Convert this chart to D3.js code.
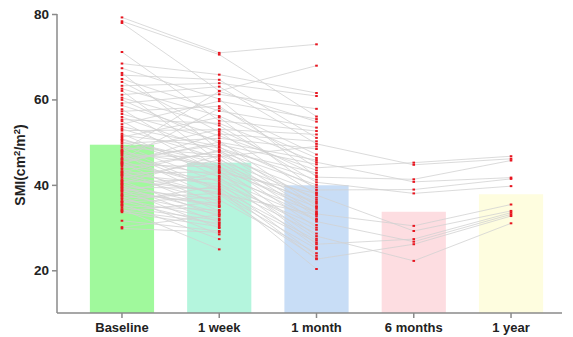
<!DOCTYPE html>
<html><head><meta charset="utf-8">
<script src="https://cdn.jsdelivr.net/npm/d3@7"></script>
<style>body{margin:0;background:#fff}svg{display:block}text{font-family:"Liberation Sans",Arial,sans-serif}</style>
</head><body><svg id="c" width="573" height="337"></svg>
<script>
const categories = ["Baseline","1 week","1 month","6 months","1 year"];
const barMeans = [49.4, 45.2, 39.9, 33.7, 37.8];
const barColors = ["#a0f99c","#b4f5dd","#c8ddf6","#fddde1","#fefddf"];
const yTicks = [20, 40, 60, 80];

// per-patient values (null = not measured)
const baseline = [79.2,78.3,77.9,71.1,68.4,67.3,66.2,65.7,64.8,64.1,63.2,62.5,62.0,61.1,60.4,59.9,59.1,58.6,57.7,57.2,56.6,55.9,55.3,54.9,54.2,53.6,53.1,52.7,52.0,51.6,51.2,50.5,50.1,49.7,49.2,48.8,48.3,47.9,47.6,47.1,46.8,46.3,45.9,45.5,45.1,44.7,44.4,43.9,43.6,43.2,42.8,42.5,42.1,41.7,41.3,40.9,40.6,40.2,39.8,39.5,39.1,38.8,38.4,38.0,37.7,37.3,36.9,36.6,36.2,35.9,35.5,35.1,34.7,34.3,33.9,33.6,31.6,30.1,29.8,44.9,42.3,40.4,38.6,37.5,36.0,46.0,48.0,50.8,41.0,39.3,35.3,34.0,43.0,45.3,47.4,40.0];
const week1 = [70.9,70.5,62.0,55.0,65.8,60.1,48.2,64.6,57.3,52.4,63.8,56.1,45.5,63.0,53.9,49.8,61.2,51.5,44.0,58.4,50.3,47.6,54.4,42.7,59.6,49.0,46.2,52.9,41.8,48.7,55.8,45.0,43.3,50.9,40.6,47.0,38.9,53.0,44.5,36.8,46.6,42.1,49.4,39.5,35.2,44.2,41.0,47.8,37.7,33.9,43.0,40.2,36.1,45.8,38.3,32.6,41.4,34.8,31.2,39.1,36.5,29.9,42.9,35.6,33.1,28.4,38.0,32.0,30.6,37.2,27.3,34.1,31.7,24.9,36.0,30.2,29.2,33.0,28.9,51.9,37.9,46.9,35.0,null,39.8,57.9,61.9,43.6,null,33.5,null,31.0,48.1,50.0,38.6,null];
const month1 = [72.9,56.0,67.9,52.6,61.5,41.8,33.2,51.0,53.4,37.6,60.8,46.3,30.0,49.6,40.6,39.4,57.8,43.4,33.8,44.0,35.0,36.5,45.3,27.4,55.4,34.4,31.4,42.2,25.4,41.2,38.8,35.6,26.1,48.4,23.4,38.2,20.3,51.8,28.0,null,49.0,33.5,44.8,22.6,null,36.0,29.5,40.0,22.8,null,32.0,30.6,null,37.0,26.5,null,31.8,null,null,27.0,24.0,null,38.0,null,null,null,25.0,null,null,null,null,null,null,null,null,null,null,null,null,50.2,33.0,32.6,null,null,28.6,47.1,54.8,34.8,null,null,null,null,42.8,45.8,null,null];
const month6 = {19:45.2,13:44.7,5:41.3,22:40.7,30:38.9,14:38.0,6:30.4,9:29.2,32:27.3,26:26.7,43:26.1,38:22.2};
const year1 = {19:46.7,13:46.1,5:45.7,22:41.7,30:41.4,14:39.7,6:35.4,9:33.9,32:33.5,26:33.1,43:32.7,38:31.0};

const series = [baseline, week1, month1,
  baseline.map((_, i) => month6[i] ?? null),
  baseline.map((_, i) => year1[i] ?? null)];

const svg = d3.select("#c");
const x = d3.scaleBand().domain(categories).range([57, 576]).paddingInner(0.34).paddingOuter(0.338);
const y = d3.scaleLinear().domain([10, 80]).range([313, 14]);
const cx = c => x(c) + x.bandwidth() / 2;

// bars
svg.append("g").selectAll("rect").data(categories).join("rect")
  .attr("x", d => x(d)).attr("width", x.bandwidth())
  .attr("y", (d, i) => y(barMeans[i])).attr("height", (d, i) => y(10) - y(barMeans[i]))
  .attr("fill", (d, i) => barColors[i]);

// lines
const lg = svg.append("g").attr("stroke", "#d2d2d2").attr("stroke-width", 1).attr("stroke-opacity", 0.8).attr("fill", "none");
baseline.forEach((_, p) => {
  for (let t = 0; t < 4; t++) {
    const a = series[t][p], b = series[t + 1][p];
    if (a != null && b != null) {
      lg.append("line").attr("x1", cx(categories[t])).attr("y1", y(a))
        .attr("x2", cx(categories[t + 1])).attr("y2", y(b));
    }
  }
});

// dots
const dg = svg.append("g").attr("fill", "#e8151f");
series.forEach((s, t) => {
  s.forEach(v => {
    if (v != null) dg.append("rect").attr("x", cx(categories[t]) - 1.3).attr("y", y(v) - 1).attr("width", 2.6).attr("height", 2);
  });
});

// y axis
const ya = svg.append("g").attr("transform", "translate(57,0)")
  .call(d3.axisLeft(y).tickValues(yTicks).tickSize(5).tickPadding(3));
ya.select(".domain").remove();
ya.append("line").attr("x1", 0).attr("x2", 0).attr("y1", 14).attr("y2", 313).attr("stroke", "#8a8a8a").attr("stroke-width", 1.5);
ya.selectAll(".tick line").attr("stroke", "#8a8a8a").attr("stroke-width", 1.5);
ya.selectAll(".tick text").attr("fill", "#222").attr("font-size", 13.5).attr("font-weight", "bold");

// x axis
const xa = svg.append("g").attr("transform", "translate(0,313)")
  .call(d3.axisBottom(x).tickSize(5).tickPadding(5));
xa.select(".domain").remove();
xa.append("line").attr("x1", 57).attr("x2", 562).attr("y1", 0).attr("y2", 0).attr("stroke", "#8a8a8a").attr("stroke-width", 1.5);
xa.selectAll(".tick line").attr("stroke", "#8a8a8a").attr("stroke-width", 1.5);
xa.selectAll(".tick text").attr("fill", "#222").attr("font-size", 13).attr("font-weight", "bold");

// y label
const lab = svg.append("text").attr("transform", "translate(25,165) rotate(-90)")
  .attr("text-anchor", "middle").attr("font-size", 14).attr("font-weight", "bold").attr("fill", "#222");
lab.append("tspan").text("SMI(cm");
lab.append("tspan").text("2").attr("font-size", 9.5).attr("dy", -5);
lab.append("tspan").text("/m").attr("dy", 5);
lab.append("tspan").text("2").attr("font-size", 9.5).attr("dy", -5);
lab.append("tspan").text(")").attr("dy", 5);
</script></body></html>
